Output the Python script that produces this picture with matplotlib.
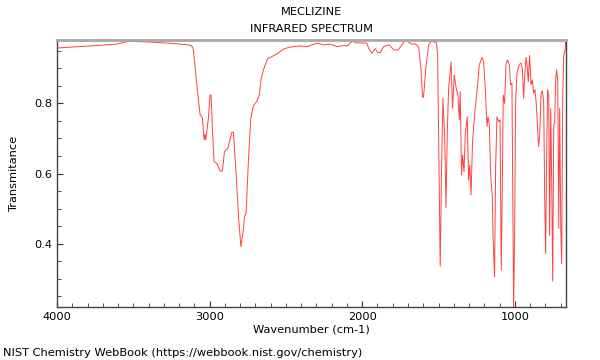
import numpy as np
import matplotlib
matplotlib.use("Agg")
import matplotlib.pyplot as plt
from matplotlib.ticker import MultipleLocator

# spectrum (wavenumber cm-1, transmittance)
wavenumber = [
    4000, 3609, 3532, 3390, 3237, 3193, 3139, 3117, 3106, 3084, 3062, 3047,
    3036, 3030, 3025, 3008, 2997, 2990, 2982, 2971, 2953, 2931, 2916, 2903,
    2881, 2854, 2844, 2826, 2811, 2795, 2778, 2772, 2761, 2746, 2730, 2713,
    2691, 2675, 2662, 2643, 2621, 2560, 2516, 2472, 2407, 2363, 2297, 2254,
    2210, 2166, 2123, 2100, 2061, 2046, 1980, 1969, 1959, 1937, 1915, 1900,
    1882, 1860, 1823, 1795, 1766, 1740, 1718, 1696, 1674, 1653, 1631, 1615,
    1605, 1598, 1583, 1565, 1543, 1526, 1515, 1506, 1497, 1489, 1480, 1471,
    1460, 1451, 1443, 1434, 1418, 1408, 1397, 1384, 1373, 1364, 1358, 1349,
    1342, 1333, 1325, 1312, 1303, 1296, 1287, 1277, 1264, 1248, 1233, 1215,
    1205, 1194, 1182, 1176, 1167, 1159, 1154, 1148, 1143, 1133, 1126, 1117,
    1106, 1097, 1089, 1082, 1076, 1067, 1058, 1049, 1036, 1028, 1019, 1012,
    1008, 1001, 995, 986, 973, 960, 951, 942, 936, 927, 920, 912,
    903, 894, 885, 877, 868, 859, 850, 844, 837, 828, 820, 811,
    804, 798, 792, 785, 778, 772, 765, 758, 752, 745, 739, 732,
    726, 719, 712, 706, 699, 693, 686, 680, 671, 667,
]
transmittance = [
    0.958, 0.969, 0.977, 0.975, 0.971, 0.969, 0.967, 0.964, 0.953, 0.853, 0.767, 0.758,
    0.696, 0.712, 0.696, 0.758, 0.824, 0.824, 0.729, 0.634, 0.629, 0.607, 0.607, 0.662,
    0.672, 0.718, 0.718, 0.596, 0.481, 0.391, 0.443, 0.477, 0.486, 0.634, 0.758, 0.794,
    0.805, 0.824, 0.872, 0.901, 0.927, 0.941, 0.955, 0.961, 0.964, 0.962, 0.972, 0.967,
    0.969, 0.962, 0.965, 0.964, 0.979, 0.973, 0.972, 0.972, 0.958, 0.943, 0.956, 0.946,
    0.945, 0.962, 0.967, 0.953, 0.952, 0.967, 0.981, 0.975, 0.969, 0.970, 0.962, 0.901,
    0.817, 0.819, 0.901, 0.967, 0.979, 0.974, 0.977, 0.939, 0.615, 0.336, 0.615, 0.815,
    0.710, 0.503, 0.710, 0.843, 0.918, 0.786, 0.881, 0.843, 0.824, 0.753, 0.834, 0.596,
    0.653, 0.605, 0.710, 0.762, 0.581, 0.624, 0.539, 0.691, 0.767, 0.834, 0.910, 0.931,
    0.919, 0.843, 0.734, 0.762, 0.739, 0.605, 0.567, 0.539, 0.424, 0.305, 0.615, 0.762,
    0.748, 0.753, 0.324, 0.567, 0.824, 0.800, 0.910, 0.924, 0.910, 0.853, 0.858, 0.424,
    0.215, 0.444, 0.805, 0.886, 0.910, 0.915, 0.901, 0.815, 0.872, 0.931, 0.910, 0.862,
    0.937, 0.853, 0.867, 0.829, 0.839, 0.796, 0.719, 0.677, 0.710, 0.829, 0.836, 0.805,
    0.519, 0.372, 0.634, 0.839, 0.824, 0.424, 0.786, 0.567, 0.293, 0.739, 0.743, 0.872,
    0.896, 0.862, 0.443, 0.786, 0.443, 0.343, 0.824, 0.934, 0.953, 0.977,
]

FS = 8.2

fig = plt.figure(figsize=(6, 3.6), dpi=100)
ax = fig.add_axes([0.095, 0.147, 0.848, 0.742])

ax.plot(wavenumber, transmittance, color="#ff2020", lw=0.7, alpha=0.85)

ax.set_xlim(4000, 666)
ax.set_ylim(0.219, 0.981)

ax.xaxis.set_major_locator(MultipleLocator(1000))
ax.xaxis.set_minor_locator(MultipleLocator(100))
ax.yaxis.set_major_locator(MultipleLocator(0.2))
ax.yaxis.set_minor_locator(MultipleLocator(0.05))
ax.yaxis.set_major_formatter(plt.FuncFormatter(lambda v, p: f"{v:.1f}"))
ax.tick_params(which="both", direction="in", labelsize=FS, colors="#333333",
               labelcolor="black", top=False, right=False)
ax.tick_params(which="major", length=4)
ax.tick_params(which="minor", length=3)

for side in ["left", "bottom", "right"]:
    ax.spines[side].set_color("#444444")
    ax.spines[side].set_linewidth(1)
ax.spines["top"].set_color("#a8a8a8")
ax.spines["top"].set_linewidth(2)

ax.set_xlabel("Wavenumber (cm-1)", fontsize=FS, labelpad=2)
ax.set_ylabel("Transmitance", fontsize=FS, labelpad=11)

fig.text(0.519, 0.967, "MECLIZINE", ha="center", va="center", fontsize=FS)
fig.text(0.519, 0.919, "INFRARED SPECTRUM", ha="center", va="center", fontsize=FS)
fig.text(0.005, 0.019, "NIST Chemistry WebBook (https://webbook.nist.gov/chemistry)",
         ha="left", va="center", fontsize=FS)

fig.savefig("out.png", dpi=100)
